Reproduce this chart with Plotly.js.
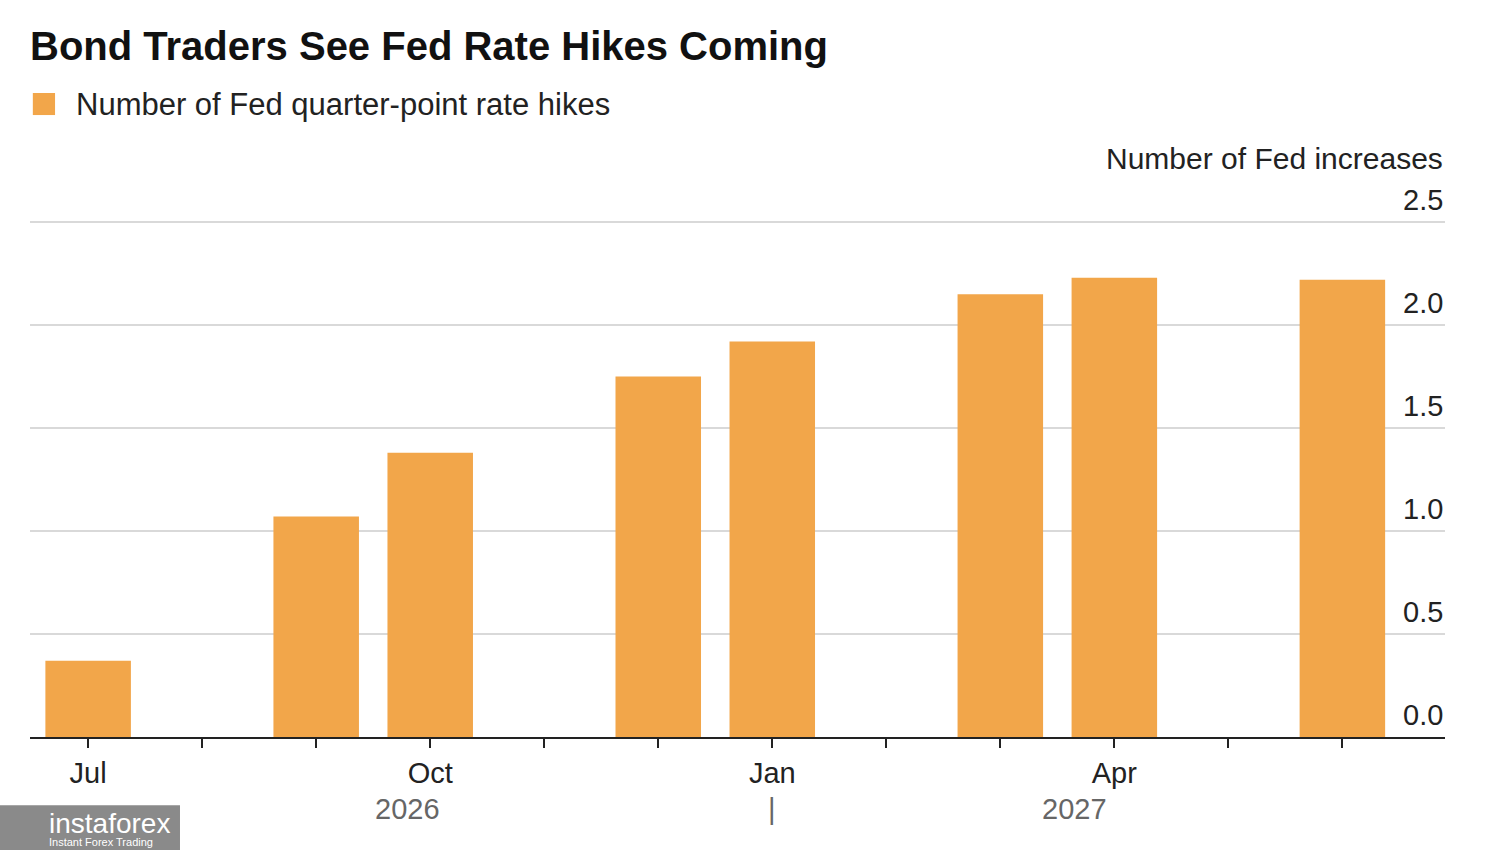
<!DOCTYPE html>
<html>
<head>
<meta charset="utf-8">
<script src="https://cdn.plot.ly/plotly-3.0.1.min.js"></script>
<style>body{margin:0;background:#fff}</style>
</head>
<body>
<div id="chart" style="width:1500px;height:850px"></div>
<script>
// month index 0 = Jul 2026
var monthIdx = [0, 2, 3, 5, 6, 8, 9, 11];
var hikes = [0.37, 1.07, 1.38, 1.75, 1.92, 2.15, 2.23, 2.22];
var tickMonths = [0, 1, 2, 3, 4, 5, 6, 7, 8, 9, 10, 11];
var tickLabels = ['Jul', '', '', 'Oct', '', '', 'Jan', '', '', 'Apr', '', ''];
var yTicks = [0, 0.5, 1, 1.5, 2, 2.5];

var font = 'Liberation Sans, Arial, sans-serif';
var orange = '#f2a64a';

var annotations = yTicks.map(v => ({
    x: 1, xref: 'paper', y: v, yref: 'y', text: v.toFixed(1),
    xanchor: 'right', yanchor: 'bottom', yshift: 4, showarrow: false,
    font: {family: font, size: 29, color: '#222'}
}));
annotations.push(
    {x: 1, xref: 'paper', y: 1.118, yref: 'paper', text: 'Number of Fed increases',
     xanchor: 'right', yanchor: 'middle', showarrow: false, font: {family: font, size: 30, color: '#222'}},
    {x: 0.031, xref: 'paper', y: 1.224, yref: 'paper', text: 'Number of Fed quarter-point rate hikes',
     xanchor: 'left', yanchor: 'middle', showarrow: false, font: {family: font, size: 31, color: '#222'}},
    {x: 2.8, y: -0.139, yref: 'paper', yanchor: 'middle', text: '2026', showarrow: false, font: {family: font, size: 29, color: '#666'}},
    {x: 6, y: -0.139, yref: 'paper', yanchor: 'middle', text: '|', showarrow: false, font: {family: font, size: 29, color: '#666'}},
    {x: 8.65, y: -0.139, yref: 'paper', yanchor: 'middle', text: '2027', showarrow: false, font: {family: font, size: 29, color: '#666'}},
    {x: 0.012, xref: 'paper', y: -0.168, yref: 'paper', text: 'instaforex',
     xanchor: 'left', yanchor: 'middle', showarrow: false, font: {family: font, size: 28, color: '#fff'}},
    {x: 0.012, xref: 'paper', y: -0.204, yref: 'paper', text: 'Instant Forex Trading',
     xanchor: 'left', yanchor: 'middle', showarrow: false, font: {family: font, size: 11, color: '#fff'}}
);

var shapes = [
    {type: 'rect', xref: 'paper', yref: 'paper', x0: 0.002, x1: 0.0177, y0: 1.203, y1: 1.2457,
     fillcolor: orange, line: {width: 0}},
    {type: 'rect', xref: 'paper', yref: 'paper', x0: -0.0212, x1: 0.106, y0: -0.219, y1: -0.132,
     fillcolor: '#8a8a8a', line: {width: 0}}
];

var trace = {
    x: monthIdx, y: hikes, type: 'bar', width: 0.75,
    marker: {color: orange},
    name: 'Number of Fed quarter-point rate hikes'
};

var layout = {
    width: 1500, height: 850,
    margin: {l: 30, r: 55, t: 220, b: 113},
    paper_bgcolor: '#fff', plot_bgcolor: '#fff',
    title: {text: '<b>Bond Traders See Fed Rate Hikes Coming</b>', x: 0.02, xanchor: 'left',
        y: 0.946, yanchor: 'middle', font: {family: font, size: 40, color: '#111'}},
    showlegend: false,
    xaxis: {range: [-0.51, 11.9], tickvals: tickMonths, ticktext: tickLabels,
        ticks: 'outside', ticklen: 9, tickcolor: '#222', tickwidth: 2,
        showline: true, linecolor: '#222', linewidth: 2, showgrid: false, zeroline: false,
        tickfont: {family: font, size: 29, color: '#222'}},
    yaxis: {range: [0, 2.51], tickvals: yTicks, showticklabels: false, showgrid: true,
        gridcolor: '#d9d9d9', gridwidth: 2, zeroline: false},
    shapes: shapes,
    annotations: annotations
};

Plotly.newPlot('chart', [trace], layout, {displayModeBar: false});
</script>
</body>
</html>
